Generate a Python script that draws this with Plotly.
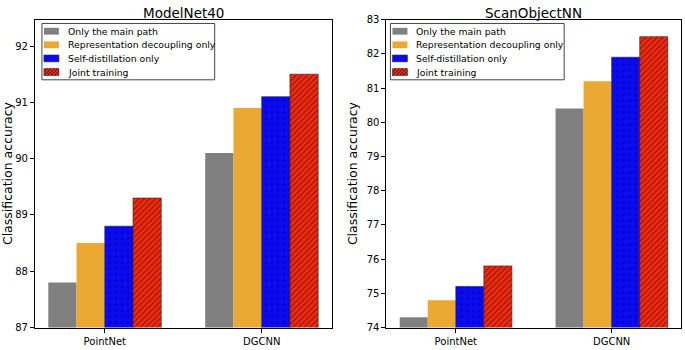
import plotly.graph_objects as go

categories = ["PointNet", "DGCNN"]
series_names = ["Only the main path", "Representation decoupling only",
                "Self-distillation only", "Joint training"]
modelnet40 = [
    [87.8, 90.1],
    [88.5, 90.9],
    [88.8, 91.1],
    [89.3, 91.5],
]
scanobjectnn = [
    [74.3, 80.4],
    [74.8, 81.2],
    [75.2, 81.9],
    [75.8, 82.5],
]
titles = ["ModelNet40", "ScanObjectNN"]
y_label = "Classification accuracy"

colors = ["#808080", "#EBA832", "#0A0AF5", "#F52A10"]
patterns = ["", "", ".", "/"]
line_w = [0, 0, 0.6, 0.6]

W, H = 685, 350
font = "DejaVu Sans, Verdana, sans-serif"


def px(x):
    return x / W


def py(y):
    return 1 - y / H


fig = go.Figure()
bw = 0.18
offsets = [-1.5 * bw, -0.5 * bw, 0.5 * bw, 1.5 * bw]
xpos = list(range(len(categories)))

pattern_specs = {
    "": dict(shape=""),
    ".": dict(shape=".", size=6, solidity=0.1),
    "/": dict(shape="/", size=4, solidity=0.25),
}

for p, data in enumerate([modelnet40, scanobjectnn]):
    xa = "x" if p == 0 else "x2"
    ya = "y" if p == 0 else "y2"
    for i, name in enumerate(series_names):
        pat = dict(fgcolor="black", fillmode="overlay", **pattern_specs[patterns[i]])
        fig.add_trace(go.Bar(
            x=[x + offsets[i] for x in xpos], y=data[i], width=bw,
            name=name, xaxis=xa, yaxis=ya,
            marker=dict(color=colors[i], pattern=pat,
                        line=dict(color="#222222", width=line_w[i])),
            showlegend=False,
        ))

# hand-drawn legends (matplotlib style)
shapes = []
annotations = []
for (bx0, bx1) in [(41, 214), (390, 564)]:
    by0, by1 = 19, 77
    shapes.append(dict(type="rect", xref="paper", yref="paper",
                       x0=px(bx0), x1=px(bx1), y0=py(by1), y1=py(by0),
                       line=dict(color="#444444", width=1), fillcolor="white",
                       layer="above"))
    for i, name in enumerate(series_names):
        cy = 27 + i * 14
        sx0, sx1 = bx0 + 2, bx0 + 17
        sy0, sy1 = cy - 3.5, cy + 3.5
        shapes.append(dict(type="rect", xref="paper", yref="paper",
                           x0=px(sx0), x1=px(sx1), y0=py(sy1), y1=py(sy0),
                           fillcolor=colors[i],
                           line=dict(color="#222222" if line_w[i] else colors[i],
                                     width=0.6 if line_w[i] else 0),
                           layer="above"))
        if patterns[i] == "/":
            h = sy1 - sy0
            k = sx0 - h
            segs = []
            while k < sx1:
                xa0, ya0 = k, sy1
                xa1, ya1 = k + h, sy0
                if xa0 < sx0:
                    ya0 = sy1 - (sx0 - xa0)
                    xa0 = sx0
                if xa1 > sx1:
                    ya1 = sy0 + (xa1 - sx1)
                    xa1 = sx1
                if xa1 > xa0:
                    segs.append("M{:.4f},{:.4f} L{:.4f},{:.4f}".format(
                        px(xa0), py(ya0), px(xa1), py(ya1)))
                k += 3.5
            shapes.append(dict(type="path", xref="paper", yref="paper",
                               path=" ".join(segs),
                               line=dict(color="black", width=0.8), layer="above"))
        annotations.append(dict(text=name, x=px(bx0 + 24), y=py(cy), xref="paper",
                                yref="paper", showarrow=False, xanchor="left",
                                yanchor="middle",
                                font=dict(family=font, size=9.3, color="black")))

axis_common = dict(showline=True, linecolor="black", linewidth=1, mirror=True,
                   ticks="outside", ticklen=4, tickcolor="black", showgrid=False,
                   zeroline=False, tickfont=dict(family=font, size=10, color="black"))

ydom = [(H - 332) / H, (H - 15) / H]
for t, (a, b) in zip(titles, [(34, 331), (386, 681)]):
    annotations.append(dict(text=t, x=px((a + b) / 2), y=py(8), xref="paper",
                            yref="paper", showarrow=False,
                            font=dict(family=font, size=13.5, color="black"),
                            xanchor="center", yanchor="middle"))

fig.update_layout(
    width=W, height=H, margin=dict(l=0, r=0, t=0, b=0),
    plot_bgcolor="white", paper_bgcolor="white",
    barmode="overlay", font=dict(family=font, color="black"),
    showlegend=False,
    xaxis=dict(domain=[34 / W, 331 / W], range=[-0.445, 1.445],
               tickvals=xpos, ticktext=categories, anchor="y", **axis_common),
    yaxis=dict(domain=ydom, range=[87, 92.47], dtick=1, anchor="x",
               title=dict(text=y_label, font=dict(family=font, size=12.5), standoff=6),
               **axis_common),
    xaxis2=dict(domain=[386 / W, 681 / W], range=[-0.445, 1.445],
                tickvals=xpos, ticktext=categories, anchor="y2", **axis_common),
    yaxis2=dict(domain=ydom, range=[74, 83], dtick=1, anchor="x2",
                title=dict(text=y_label, font=dict(family=font, size=12.5), standoff=6),
                **axis_common),
    shapes=shapes,
    annotations=annotations,
)

fig.write_html("out.html", config={"displayModeBar": False},
               post_script="document.body.style.margin='0';"
                           "document.documentElement.style.overflow='hidden';")
